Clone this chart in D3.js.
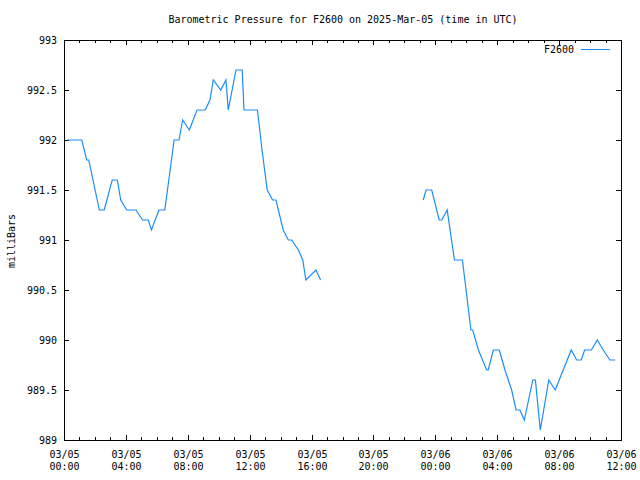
<!DOCTYPE html>
<html>
<head>
<meta charset="utf-8">
<script src="https://cdn.jsdelivr.net/npm/d3@7"></script>
<style>
  html, body { margin: 0; padding: 0; background: #fff; }
  svg { display: block; }
  text { font-family: "DejaVu Sans Mono", "Liberation Mono", monospace; font-size: 10px; fill: #000; }
</style>
</head>
<body>
<svg id="chart" width="640" height="480"></svg>
<script>
// ---- Data (times in UTC, pressure in millibars; null = gap in record) ----
const times = [
  "2025-03-05T00:13", "2025-03-05T01:09", "2025-03-05T01:28", "2025-03-05T01:36",
  "2025-03-05T02:17", "2025-03-05T02:36", "2025-03-05T03:07", "2025-03-05T03:27",
  "2025-03-05T03:40", "2025-03-05T04:03", "2025-03-05T04:39", "2025-03-05T05:05",
  "2025-03-05T05:27", "2025-03-05T05:39", "2025-03-05T06:08", "2025-03-05T06:31",
  "2025-03-05T07:07", "2025-03-05T07:26", "2025-03-05T07:40", "2025-03-05T08:06",
  "2025-03-05T08:36", "2025-03-05T09:08", "2025-03-05T09:26", "2025-03-05T09:39",
  "2025-03-05T10:08", "2025-03-05T10:28", "2025-03-05T10:37", "2025-03-05T11:07",
  "2025-03-05T11:31", "2025-03-05T11:38", "2025-03-05T12:30", "2025-03-05T12:48",
  "2025-03-05T13:08", "2025-03-05T13:29", "2025-03-05T13:42", "2025-03-05T14:10",
  "2025-03-05T14:30", "2025-03-05T14:43", "2025-03-05T15:09", "2025-03-05T15:26",
  "2025-03-05T15:38", "2025-03-05T16:17", "2025-03-05T16:35",
  "2025-03-05T20:00",
  "2025-03-05T23:13", "2025-03-05T23:24", "2025-03-05T23:46", "2025-03-06T00:15",
  "2025-03-06T00:25", "2025-03-06T00:46", "2025-03-06T01:14", "2025-03-06T01:45",
  "2025-03-06T02:18", "2025-03-06T02:25", "2025-03-06T02:47", "2025-03-06T03:19",
  "2025-03-06T03:25", "2025-03-06T03:45", "2025-03-06T04:08", "2025-03-06T04:30",
  "2025-03-06T04:43", "2025-03-06T04:56", "2025-03-06T05:13", "2025-03-06T05:28",
  "2025-03-06T05:45", "2025-03-06T06:18", "2025-03-06T06:28", "2025-03-06T06:47",
  "2025-03-06T07:20", "2025-03-06T07:45", "2025-03-06T08:47", "2025-03-06T09:08",
  "2025-03-06T09:26", "2025-03-06T09:39", "2025-03-06T10:05", "2025-03-06T10:28",
  "2025-03-06T10:51", "2025-03-06T11:17", "2025-03-06T11:38"
];
const pressure = [
  992.0, 992.0, 991.8, 991.8,
  991.3, 991.3, 991.6, 991.6,
  991.4, 991.3, 991.3, 991.2,
  991.2, 991.1, 991.3, 991.3,
  992.0, 992.0, 992.2, 992.1,
  992.3, 992.3, 992.4, 992.6,
  992.5, 992.6, 992.3, 992.7,
  992.7, 992.3, 992.3, 991.9,
  991.5, 991.4, 991.4, 991.1,
  991.0, 991.0, 990.9, 990.8,
  990.6, 990.7, 990.6,
  null,
  991.4, 991.5, 991.5, 991.2,
  991.2, 991.3, 990.8, 990.8,
  990.1, 990.1, 989.9, 989.7,
  989.7, 989.9, 989.9, 989.7,
  989.6, 989.5, 989.3, 989.3,
  989.2, 989.6, 989.6, 989.1,
  989.6, 989.5, 989.9, 989.8,
  989.8, 989.9, 989.9, 990.0,
  989.9, 989.8, 989.8
];
const seriesName = "F2600";
const titleText = "Barometric Pressure for F2600 on 2025-Mar-05 (time in UTC)";
const yLabelText = "milliBars";
const yTicks = [989, 989.5, 990, 990.5, 991, 991.5, 992, 992.5, 993];
const xStart = "2025-03-05T00:00", xEnd = "2025-03-06T12:00";

// ---- Layout ----
const L = 64, R = 621, T = 40, B = 440;
const parse = d3.utcParse("%Y-%m-%dT%H:%M");
const data = times.map((t, i) => ({ t: parse(t), v: pressure[i] }));

const x = d3.scaleUtc().domain([parse(xStart), parse(xEnd)]).range([L, R]);
const y = d3.scaleLinear().domain([989, 993]).range([B, T]);

const svg = d3.select("#chart");

// title
svg.append("text").attr("x", (L + R) / 2 + 0.5).attr("y", 23)
  .attr("text-anchor", "middle").text(titleText);

// y label
svg.append("text").attr("transform", "translate(15,241) rotate(-90)")
  .attr("text-anchor", "middle").text(yLabelText);

// ticks
const majorX = x.ticks(d3.utcHour.every(4));
const minorX = x.ticks(d3.utcHour.every(1));
const tickG = svg.append("g").attr("stroke", "#000").attr("stroke-width", 1).attr("shape-rendering", "crispEdges");
minorX.forEach(t => {
  const isMajor = t.getUTCHours() % 4 === 0;
  const len = isMajor ? 5 : 3;
  const px = Math.round(x(t)) + 0.5;
  tickG.append("line").attr("x1", px).attr("x2", px).attr("y1", B).attr("y2", B - len);
  tickG.append("line").attr("x1", px).attr("x2", px).attr("y1", T).attr("y2", T + len);
});
yTicks.forEach(v => {
  const py = Math.round(y(v)) + 0.5;
  tickG.append("line").attr("x1", L).attr("x2", L + 5).attr("y1", py).attr("y2", py);
  tickG.append("line").attr("x1", R).attr("x2", R - 5).attr("y1", py).attr("y2", py);
});

// y tick labels
const fmtY = d3.format("");
yTicks.forEach(v => {
  svg.append("text").attr("x", 57).attr("y", Math.round(y(v)) + 4)
    .attr("text-anchor", "end").text(fmtY(v));
});

// x tick labels
const fmtDate = d3.utcFormat("%m/%d"), fmtTime = d3.utcFormat("%H:%M");
majorX.forEach(t => {
  const px = Math.round(x(t)) + 0.5;
  const g = svg.append("text").attr("text-anchor", "middle");
  g.append("tspan").attr("x", px).attr("y", 458).text(fmtDate(t));
  g.append("tspan").attr("x", px).attr("y", 470).text(fmtTime(t));
});

// frame
svg.append("rect").attr("x", L + 0.5).attr("y", T + 0.5)
  .attr("width", R - L).attr("height", B - T)
  .attr("fill", "none").attr("stroke", "#000").attr("stroke-width", 1)
  .attr("shape-rendering", "crispEdges");

// line
const line = d3.line()
  .defined(d => d.v !== null)
  .x(d => x(d.t))
  .y(d => y(d.v));
svg.append("path").datum(data)
  .attr("d", line)
  .attr("fill", "none")
  .attr("stroke", "#1a8cff")
  .attr("stroke-width", 1.2);

// legend
svg.append("text").attr("x", 574).attr("y", 53).attr("text-anchor", "end").text(seriesName);
svg.append("line").attr("x1", 581).attr("x2", 610).attr("y1", 49.5).attr("y2", 49.5)
  .attr("stroke", "#1a8cff").attr("stroke-width", 1).attr("shape-rendering", "crispEdges");
</script>
</body>
</html>
